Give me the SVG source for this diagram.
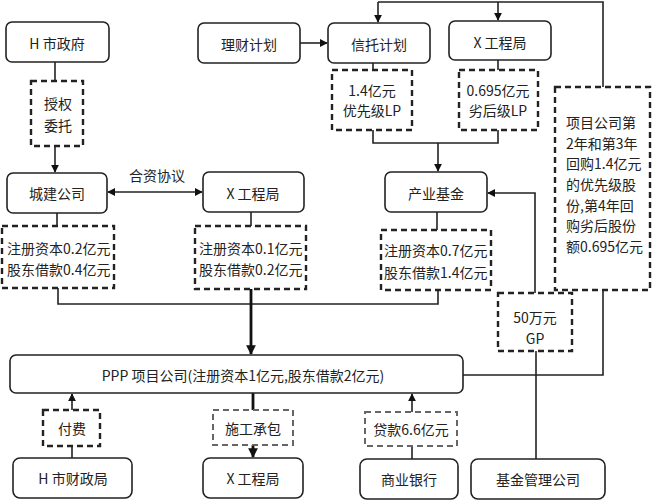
<svg xmlns="http://www.w3.org/2000/svg" width="652" height="500" viewBox="0 0 652 500">
<defs>
<style>
.n{fill:#fff;stroke:#222;stroke-width:1.6}
.d{fill:#fff;stroke:#222;stroke-width:2.4;stroke-dasharray:6 4}
.g{fill:#fff;stroke:#666;stroke-width:2;stroke-dasharray:6 4}
.t{font-family:"Noto Sans CJK SC","Liberation Sans",sans-serif;font-size:14px;fill:#222;text-anchor:middle;dominant-baseline:central}
.tl{font-family:"Noto Sans CJK SC","Liberation Sans",sans-serif;font-size:14px;fill:#222;dominant-baseline:central}
.c{fill:none;stroke:#222;stroke-width:1.6}
.k{fill:none;stroke:#111;stroke-width:2.8}
</style>
<marker id="a" viewBox="0 0 10 10" refX="9" refY="5" markerWidth="5" markerHeight="5" markerUnits="strokeWidth" orient="auto-start-reverse"><path d="M0,0L10,5L0,10z" fill="#111"/></marker>
<marker id="b" viewBox="0 0 10 10" refX="9" refY="5" markerWidth="3.5" markerHeight="3.5" markerUnits="strokeWidth" orient="auto-start-reverse"><path d="M0,0L10,5L0,10z" fill="#111"/></marker>
</defs>
<rect width="652" height="500" fill="#fff"/>
<g id="connectors">
<path class="c" d="M378,2H603V87"/>
<path class="c" d="M378,2V22" marker-end="url(#a)"/>
<path class="c" d="M498,2V20" marker-end="url(#a)"/>
<path class="c" d="M300,43H327" marker-end="url(#a)"/>
<path class="c" d="M373,63V70M498,60V70"/>
<path class="c" d="M373,130V143H498V130"/>
<path class="c" d="M438,143V171" marker-end="url(#a)"/>
<path class="c" d="M55,62V81"/>
<path class="c" d="M55,146V172" marker-end="url(#a)"/>
<path class="c" d="M108,192H202" marker-start="url(#a)" marker-end="url(#a)"/>
<path class="c" d="M57,213V226M251,212V226M437,212V230"/>
<path class="c" d="M58,288V304H438V290"/>
<path class="k" d="M251,289V354" marker-end="url(#b)"/>
<path class="c" d="M535,293V193H488" marker-end="url(#a)"/>
<path class="c" d="M603,290V375H463"/>
<path class="c" d="M536,351V459"/>
<path class="c" d="M72,458V446M72,410V394" marker-end="url(#a)"/>
<path class="k" d="M253,393V410"/>
<path class="k" d="M253,445V457" marker-end="url(#b)"/>
<path class="c" d="M412,459V446M412,412V394" marker-end="url(#a)"/>
</g>
<g id="n-hgov"><rect class="n" x="6" y="22" width="103" height="40" rx="6"/><text class="t" x="57" y="43">H 市政府</text></g>
<g id="n-licai"><rect class="n" x="198" y="23" width="102" height="40" rx="6"/><text class="t" x="249" y="44">理财计划</text></g>
<g id="n-xintuo"><rect class="n" x="328" y="23" width="102" height="40" rx="6"/><text class="t" x="379" y="44">信托计划</text></g>
<g id="n-xgc1"><rect class="n" x="449" y="21" width="102" height="39" rx="6"/><text class="t" x="500" y="42">X 工程局</text></g>
<g id="n-shouquan"><rect class="d" x="31" y="81" width="52" height="65"/><text class="t" x="58" y="103">授权</text><text class="t" x="58" y="125">委托</text></g>
<g id="n-lp1"><rect class="d" x="332" y="70" width="80" height="60"/><text class="t" x="372" y="90">1.4亿元</text><text class="t" x="372" y="110">优先级LP</text></g>
<g id="n-lp2"><rect class="d" x="459" y="70" width="79" height="60"/><text class="t" x="498" y="90">0.695亿元</text><text class="t" x="498" y="110">劣后级LP</text></g>
<g id="n-huigou"><rect class="d" x="555" y="87" width="95" height="203"/>
<text class="tl" x="566" y="122">项目公司第</text><text class="tl" x="566" y="143">2年和第3年</text><text class="tl" x="566" y="163">回购1.4亿元</text><text class="tl" x="566" y="184">的优先级股</text><text class="tl" x="566" y="205">份,第4年回</text><text class="tl" x="566" y="225">购劣后股份</text><text class="tl" x="566" y="246">额0.695亿元</text></g>
<g id="n-chengjian"><rect class="n" x="7" y="173" width="100" height="40" rx="6"/><text class="t" x="57" y="193">城建公司</text></g>
<text class="t" x="157" y="175">合资协议</text>
<g id="n-xgc2"><rect class="n" x="203" y="172" width="101" height="40" rx="6"/><text class="t" x="253" y="193">X 工程局</text></g>
<g id="n-chanye"><rect class="n" x="385" y="172" width="102" height="40" rx="6"/><text class="t" x="436" y="193">产业基金</text></g>
<g id="n-cap1"><rect class="d" x="2" y="226" width="112" height="62"/><text class="tl" x="7" y="248">注册资本0.2亿元</text><text class="tl" x="7" y="269">股东借款0.4亿元</text></g>
<g id="n-cap2"><rect class="d" x="195" y="226" width="111" height="63"/><text class="tl" x="199" y="248">注册资本0.1亿元</text><text class="tl" x="199" y="269">股东借款0.2亿元</text></g>
<g id="n-cap3"><rect class="d" x="381" y="230" width="110" height="60"/><text class="tl" x="384" y="250">注册资本0.7亿元</text><text class="tl" x="384" y="272">股东借款1.4亿元</text></g>
<g id="n-gp"><rect class="d" x="498" y="293" width="74" height="58"/><text class="t" x="535" y="317">50万元</text><text class="t" x="535" y="338">GP</text></g>
<g id="n-ppp"><rect class="n" x="10" y="355" width="453" height="38" rx="6"/><text class="t" x="243" y="375">PPP 项目公司(注册资本1亿元,股东借款2亿元)</text></g>
<g id="n-fufei"><rect class="d" x="43" y="410" width="57" height="36"/><text class="t" x="72" y="428">付费</text></g>
<g id="n-shigong"><rect class="g" x="213" y="410" width="80" height="35"/><text class="t" x="253" y="428">施工承包</text></g>
<g id="n-daikuan"><rect class="g" x="365" y="412" width="92" height="34"/><text class="t" x="411" y="429">贷款6.6亿元</text></g>
<g id="n-caizheng"><rect class="n" x="13" y="458" width="119" height="40" rx="7"/><text class="t" x="73" y="478">H 市财政局</text></g>
<g id="n-xgc3"><rect class="n" x="203" y="458" width="100" height="40" rx="7"/><text class="t" x="253" y="478">X 工程局</text></g>
<g id="n-bank"><rect class="n" x="360" y="459" width="98" height="40" rx="7"/><text class="t" x="409" y="479">商业银行</text></g>
<g id="n-jijin"><rect class="n" x="471" y="459" width="134" height="40" rx="7"/><text class="t" x="538" y="479">基金管理公司</text></g>
</svg>
